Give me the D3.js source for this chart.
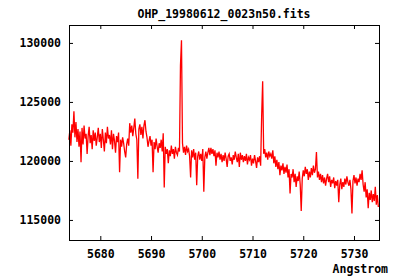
<!DOCTYPE html>
<html>
<head>
<meta charset="utf-8">
<script src="https://cdn.jsdelivr.net/npm/d3@7"></script>
<style>
  body { margin: 0; background: #fff; }
  text { font-family: "DejaVu Sans Mono", monospace; font-weight: bold; font-size: 11.5px; fill: #000; }
</style>
</head>
<body>
<div id="chart"></div>
<script>
// spectrum: linear wavelength grid (start + i*step), flux
var lambdaStart = 5673.8,
    lambdaStep = 0.2;

var flux = [
  121800, 122600, 121300, 123100, 122400, 124200, 122000, 123300, 121600, 122700,
  121200, 122500, 119900, 122800, 121400, 123000, 121900, 122300, 120600, 122100,
  122900, 121500, 122200, 121000, 122600, 121700, 122400, 121300, 122000, 122800,
  121600, 122300, 121100, 122700, 121800, 120800, 122400, 121500, 122900, 121900,
  122200, 121400, 122600, 121000, 122300, 121700, 120700, 122100, 121600, 122400,
  119050, 121800, 121200, 122000, 121500, 120800, 120300, 121400, 121900, 121300,
  123200, 122400, 123000, 122100, 122800, 123600, 122300, 121800, 118500, 122700,
  123100, 122200, 122900, 121900, 123000, 123450, 122500, 122000, 121200, 121700,
  122100, 121300, 121800, 119050, 121600, 121000, 121900, 121200, 120700, 121500,
  121100, 121800, 120800, 122350, 117750, 121200, 120600, 121000, 119800, 120900,
  120400, 121300, 120600, 121000, 120200, 121200, 120700, 120500, 121100, 120800,
  128100, 130230, 121500, 120700, 121200, 120500, 121300, 120800, 121000, 120400,
  118600, 120900, 120300, 121000, 120100, 120700, 117950, 120400, 120800, 120100,
  120600, 120000, 121000, 117400, 120300, 120800, 120200, 120700, 121100, 120500,
  121100, 120600, 121000, 120400, 120900, 119600, 120700, 120300, 120800, 120100,
  120600, 119900, 120500, 120000, 120700, 120200, 119500, 120400, 120600, 120000,
  120300, 119700, 120500, 120100, 120800, 120300, 119900, 120600, 119500, 120700,
  120100, 120500, 119900, 120400, 120000, 120600, 119700, 120300, 120100, 120500,
  119600, 120200, 119800, 120500, 120000, 119400, 120300, 119900, 120400, 119600,
  123800, 126750, 120600, 121000, 120300, 120700, 120100, 120800, 120400, 120600,
  120200, 120900, 119800, 120400, 119500, 120100, 119300, 119900, 118800, 119600,
  119200, 119800, 118900, 119500, 119000, 119700, 118600, 119300, 117250, 118900,
  118600, 119300, 118200, 118900, 117800, 118700, 118300, 119100, 118000, 115750,
  118500, 119200, 118700, 119500, 118900, 119300, 118400, 119100, 118600, 119400,
  118800, 119600, 119000, 119300, 120750, 118600, 119100, 118400, 118900, 118200,
  118800, 118100, 118600, 117900, 118500, 118900, 118200, 118700, 117800, 118400,
  118100, 118600, 117700, 118300, 117900, 118400, 116500, 118000, 118500, 117600,
  118200, 117800, 118500, 118000, 118700, 118200, 117900, 118400, 117600, 115550,
  118300, 118800, 118100, 118600, 117900, 118500, 118200, 118900, 118400, 119200,
  118000, 117400, 118200, 116900, 117600, 116000, 117300, 116700, 117500, 116500,
  117200, 116600, 117800, 116300, 117100, 116100
];

var xTicks = [5680, 5690, 5700, 5710, 5720, 5730];
var yTicks = [115000, 120000, 125000, 130000];

var title = 'OHP_19980612_0023n50.fits',
    xLabel = 'Angstrom';

var width = 400,
    height = 280,
    plotL = 69, plotR = 379, plotT = 25, plotB = 240;

var svg = d3.select('#chart').append('svg')
    .attr('width', width)
    .attr('height', height);

var xScale = d3.scaleLinear()
    .domain([5673.83, 5734.93])
    .range([plotL, plotR]);

var yScale = d3.scaleLinear()
    .domain([113300, 131520])
    .range([plotB, plotT]);

// curve
var line = d3.line()
    .x((d, i) => xScale(lambdaStart + i * lambdaStep))
    .y(d => yScale(d));

svg.append('path')
    .datum(flux)
    .attr('d', line)
    .attr('fill', 'none')
    .attr('stroke', '#ff0000')
    .attr('stroke-width', 1.3);

// axes, ticks pointing inward on all four sides
var xAxis = svg.append('g')
    .attr('transform', 'translate(0,' + plotB + ')')
    .call(d3.axisBottom(xScale).tickValues(xTicks).tickSize(-4).tickFormat(d3.format('d')));
xAxis.selectAll('text').attr('dy', null).attr('y', 17.5);

var yAxis = svg.append('g')
    .attr('transform', 'translate(' + plotL + ',0)')
    .call(d3.axisLeft(yScale).tickValues(yTicks).tickSize(-4).tickPadding(8).tickFormat(d3.format('d')));
yAxis.selectAll('text').attr('dy', '0.33em');

svg.append('g')
    .attr('transform', 'translate(0,' + plotT + ')')
    .call(d3.axisTop(xScale).tickValues(xTicks).tickSize(-4).tickFormat(''));

svg.append('g')
    .attr('transform', 'translate(' + plotR + ',0)')
    .call(d3.axisRight(yScale).tickValues(yTicks).tickSize(-4).tickFormat(''));

svg.selectAll('.domain').remove();
svg.selectAll('.tick line').attr('stroke', '#000');
svg.selectAll('.tick text').style('font-size', '11.5px').attr('font-family', null);

svg.append('rect')
    .attr('x', plotL + 0.5)
    .attr('y', plotT + 0.5)
    .attr('width', plotR - plotL)
    .attr('height', plotB - plotT)
    .attr('fill', 'none')
    .attr('stroke', '#000')
    .attr('stroke-width', 1);

svg.append('text')
    .attr('x', (plotL + plotR) / 2)
    .attr('y', 18)
    .attr('text-anchor', 'middle')
    .text(title);

svg.append('text')
    .attr('x', 388)
    .attr('y', 273)
    .attr('text-anchor', 'end')
    .text(xLabel);
</script>
</body>
</html>
